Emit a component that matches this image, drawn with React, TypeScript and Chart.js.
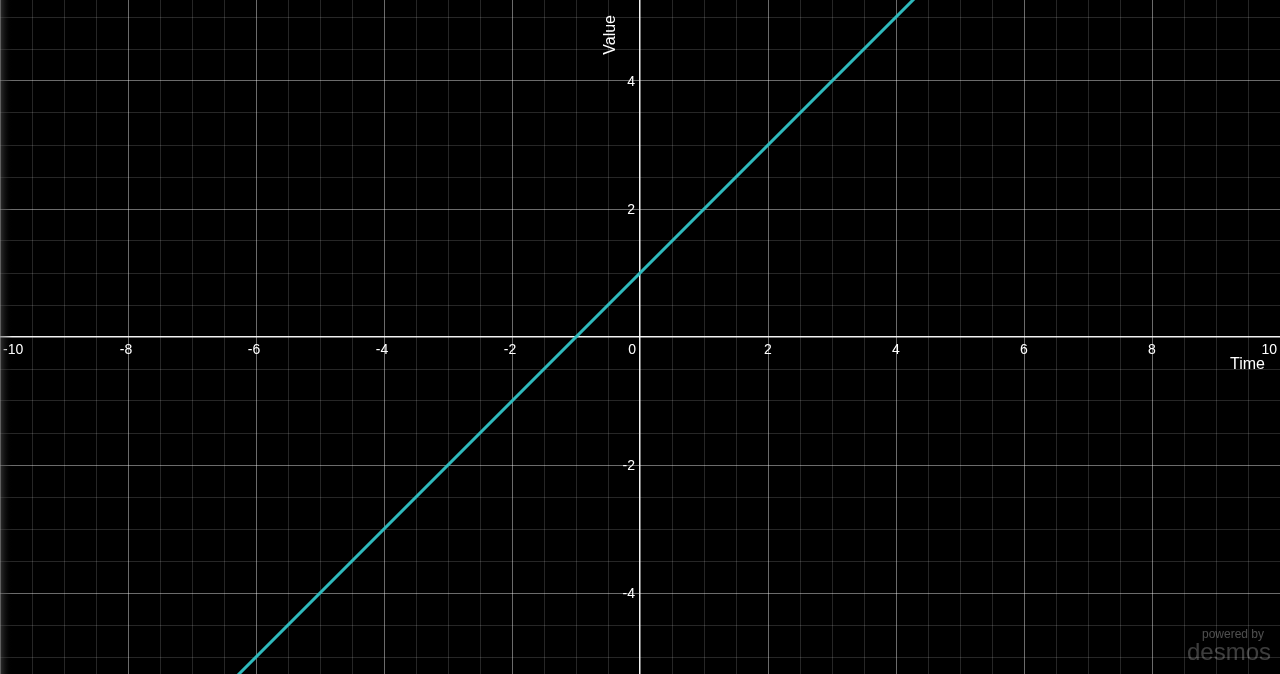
import React, { useEffect, useRef } from "react";
import { Chart, registerables } from "chart.js";

Chart.register(...registerables);

// Data
const lineX: number[] = [-10, 10];
const lineY: number[] = [-9, 11];

const xTickLabels: number[] = [-10, -8, -6, -4, -2, 0, 2, 4, 6, 8, 10];
const yTickLabels: number[] = [-4, -2, 2, 4];

const xTitle = "Time";
const yTitle = "Value";

const X_MIN = -10;
const X_MAX = 10;
const Y_MIN = -5.265625;
const Y_MAX = 5.265625;

const LINE_COLOR = "#2fbabd";
const FONT = '"Liberation Sans", Arial, Helvetica, sans-serif';

function gridColor(v: number): string {
  if (Math.abs(v) < 1e-9) return "rgba(255,255,255,0.95)";
  const r2 = Math.abs(v / 2 - Math.round(v / 2));
  if (r2 < 1e-9) return "rgba(255,255,255,0.42)";
  const r05 = Math.abs(v / 0.5 - Math.round(v / 0.5));
  if (r05 < 1e-9) return "rgba(255,255,255,0.15)";
  return "rgba(0,0,0,0)";
}

function gridWidth(v: number): number {
  return Math.abs(v) < 1e-9 ? 1.5 : 1;
}

const labelsPlugin = {
  id: "desmosLabels",
  afterDatasetsDraw(chart: any) {
    const { ctx, scales, chartArea } = chart;
    const xs = scales.x;
    const ys = scales.y;
    const x0 = xs.getPixelForValue(0);
    const y0 = ys.getPixelForValue(0);
    ctx.save();
    ctx.font = `14px ${FONT}`;
    ctx.fillStyle = "#ffffff";
    ctx.textBaseline = "top";
    // x tick labels
    for (const v of xTickLabels) {
      const px = xs.getPixelForValue(v);
      const txt = String(v);
      if (v === 0) {
        ctx.textAlign = "right";
        ctx.fillText(txt, px - 4, y0 + 6);
      } else if (px - 12 < chartArea.left) {
        ctx.textAlign = "left";
        ctx.fillText(txt, chartArea.left + 3, y0 + 6);
      } else if (px + 12 > chartArea.right) {
        ctx.textAlign = "right";
        ctx.fillText(txt, chartArea.right - 3, y0 + 6);
      } else {
        ctx.textAlign = "center";
        ctx.fillText(txt, px - (v < 0 ? 2 : 0), y0 + 6);
      }
    }
    // y tick labels
    ctx.textBaseline = "middle";
    ctx.textAlign = "right";
    for (const v of yTickLabels) {
      const py = ys.getPixelForValue(v);
      ctx.fillText(String(v), x0 - 5, py + 1);
    }
    // axis titles
    ctx.font = `16px ${FONT}`;
    ctx.textAlign = "right";
    ctx.textBaseline = "top";
    ctx.fillText(xTitle, chartArea.right - 15, y0 + 20);
    ctx.save();
    ctx.translate(x0 - 37, chartArea.top + 15);
    ctx.rotate(-Math.PI / 2);
    ctx.textAlign = "right";
    ctx.textBaseline = "top";
    ctx.fillText(yTitle, 0, 0);
    ctx.restore();
    // watermark
    ctx.textAlign = "right";
    ctx.textBaseline = "alphabetic";
    ctx.fillStyle = "rgba(255,255,255,0.3)";
    ctx.font = `12px ${FONT}`;
    ctx.fillText("powered by", chartArea.right - 16, chartArea.bottom - 36);
    ctx.fillStyle = "rgba(255,255,255,0.24)";
    ctx.font = `24px ${FONT}`;
    ctx.fillText("desmos", chartArea.right - 9, chartArea.bottom - 14);
    // left-edge shade
    const g = ctx.createLinearGradient(chartArea.left, 0, chartArea.left + 12, 0);
    g.addColorStop(0, "rgba(90,90,90,0.55)");
    g.addColorStop(1, "rgba(0,0,0,0)");
    ctx.fillStyle = g;
    ctx.fillRect(chartArea.left, chartArea.top, 12, chartArea.bottom - chartArea.top);
    ctx.restore();
  },
};

const bgPlugin = {
  id: "blackBg",
  beforeDraw(chart: any) {
    const { ctx, width, height } = chart;
    ctx.save();
    ctx.fillStyle = "#000000";
    ctx.fillRect(0, 0, width, height);
    ctx.restore();
  },
};

export default function App() {
  const canvasRef = useRef<HTMLCanvasElement | null>(null);

  useEffect(() => {
    document.body.style.margin = "0";
    document.body.style.background = "#000";
    const canvas = canvasRef.current;
    if (!canvas) return;
    const chart = new Chart(canvas, {
      type: "scatter",
      data: {
        datasets: [
          {
            label: "y",
            data: lineX.map((x, i) => ({ x, y: lineY[i] })),
            showLine: true,
            borderColor: LINE_COLOR,
            borderWidth: 3,
            pointRadius: 0,
            fill: false,
          },
        ],
      },
      options: {
        animation: false,
        responsive: false,
        maintainAspectRatio: false,
        layout: { padding: 0 },
        plugins: {
          legend: { display: false },
          tooltip: { enabled: false },
        },
        scales: {
          x: {
            type: "linear",
            min: X_MIN,
            max: X_MAX,
            position: "bottom",
            border: { display: false },
            ticks: { display: false, stepSize: 0.5, autoSkip: false, maxTicksLimit: 1000 },
            grid: {
              drawTicks: false,
              color: (c: any) => gridColor(c.tick ? c.tick.value : 1),
              lineWidth: (c: any) => gridWidth(c.tick ? c.tick.value : 1),
            },
          },
          y: {
            type: "linear",
            min: Y_MIN,
            max: Y_MAX,
            position: "left",
            border: { display: false },
            ticks: { display: false, stepSize: 0.5, autoSkip: false, maxTicksLimit: 1000 },
            grid: {
              drawTicks: false,
              color: (c: any) => gridColor(c.tick ? c.tick.value : 1),
              lineWidth: (c: any) => gridWidth(c.tick ? c.tick.value : 1),
            },
          },
        },
      } as any,
      plugins: [bgPlugin, labelsPlugin],
    });
    return () => chart.destroy();
  }, []);

  return (
    <div style={{ position: "fixed", left: 0, top: 0, width: 1280, height: 674, background: "#000" }}>
      <canvas ref={canvasRef} width={1280} height={674} style={{ display: "block", width: 1280, height: 674 }} />
    </div>
  );
}
